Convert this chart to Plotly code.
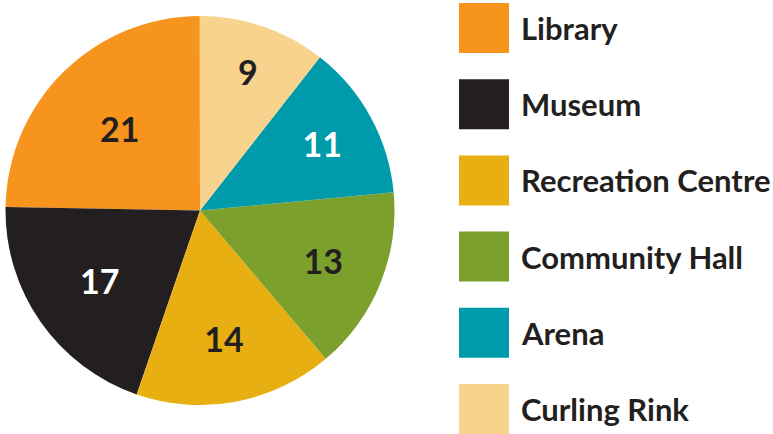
import plotly.graph_objects as go

categories = ["Library", "Museum", "Recreation Centre", "Community Hall", "Arena", "Curling Rink"]
values = [21, 17, 14, 13, 11, 9]
colors = ["#F7941E", "#231F20", "#E8AF12", "#7BA02B", "#009BAA", "#F8D38D"]
text_colors = ["#231F20", "#FFFFFF", "#231F20", "#231F20", "#FFFFFF", "#231F20"]

W, H = 773, 434
FONT = "Lato"

fig = go.Figure(go.Pie(
    labels=categories,
    values=values,
    marker=dict(colors=colors, line=dict(width=0)),
    sort=False,
    direction="counterclockwise",
    rotation=-89,
    textinfo="value",
    textposition="inside",
    insidetextorientation="horizontal",
    textfont=dict(family=FONT, size=34, color=text_colors, weight="bold"),
    domain=dict(x=[5 / W, 395 / W], y=[(H - 405) / H, (H - 16) / H]),
    showlegend=False,
    hoverinfo="label+value",
))

shapes = []
annotations = []
for i, (cat, col) in enumerate(zip(categories, colors)):
    top = 3 + i * 76.2
    y0 = (H - (top + 50)) / H
    y1 = (H - top) / H
    shapes.append(dict(type="rect", xref="paper", yref="paper",
                       x0=459 / W, x1=509 / W, y0=y0, y1=y1,
                       fillcolor=col, line=dict(width=0)))
    annotations.append(dict(xref="paper", yref="paper", x=519 / W, y=(y0 + y1) / 2,
                            xanchor="left", yanchor="middle", showarrow=False,
                            text=f"<b>{cat}</b>",
                            font=dict(family=FONT, size=31, color="#231F20")))

fig.update_layout(
    width=W, height=H,
    margin=dict(l=0, r=0, t=0, b=0),
    paper_bgcolor="white", plot_bgcolor="white",
    shapes=shapes, annotations=annotations,
)

fig.write_html("out.html", config={"displayModeBar": False},
               post_script="document.body.style.margin='0';document.body.style.overflow='hidden';")
